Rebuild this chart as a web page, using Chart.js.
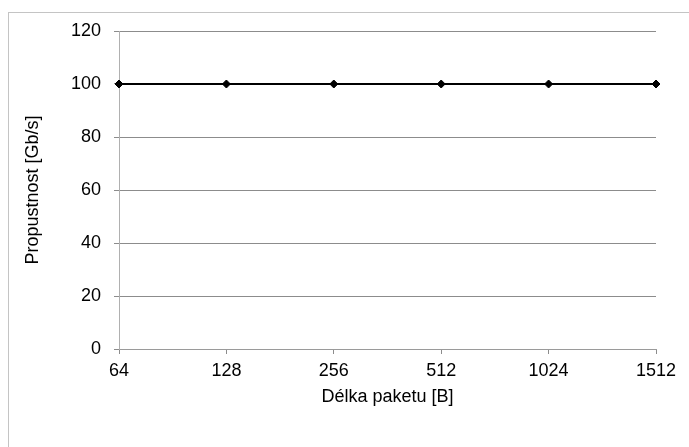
<!DOCTYPE html>
<html>
<head>
<meta charset="utf-8">
<script src="https://cdn.jsdelivr.net/npm/chart.js@4"></script>
<style>
html,body{margin:0;padding:0;background:#fff;}
canvas{display:block;}
</style>
</head>
<body>
<canvas id="c" width="689" height="447"></canvas>
<script>
const categories = ['64', '128', '256', '512', '1024', '1512'];
const throughput = [100, 100, 100, 100, 100, 100];
const yTitle = 'Propustnost [Gb/s]';
const xTitle = 'Délka paketu [B]';

const FONT = {family: '"Liberation Sans", Arial, sans-serif', size: 18};

const frame = {
  id: 'frame',
  beforeDraw(chart) {
    const ctx = chart.ctx;
    ctx.save();
    ctx.fillStyle = '#ffffff';
    ctx.fillRect(0, 0, chart.width, chart.height);
    ctx.strokeStyle = '#c4c4c4';
    ctx.lineWidth = 1;
    ctx.strokeRect(8.5, 12.5, 720, 480);
    ctx.restore();
  }
};

new Chart(document.getElementById('c'), {
  type: 'line',
  data: {
    labels: categories,
    datasets: [{
      data: throughput,
      borderColor: '#000000',
      backgroundColor: '#000000',
      borderWidth: 2,
      pointStyle: 'rectRot',
      pointRadius: 4,
      pointBorderWidth: 1,
      fill: false,
      tension: 0
    }]
  },
  options: {
    responsive: false,
    animation: false,
    layout: {autoPadding: false, padding: {left: 0, top: 31, right: 33, bottom: 0}},
    plugins: {legend: {display: false}, tooltip: {enabled: false}},
    scales: {
      x: {
        type: 'category',
        offset: false,
        afterFit(s) { s.height = 98; },
        grid: {drawOnChartArea: false, drawTicks: true, tickLength: 5, color: '#8c8c8c'},
        border: {display: true, color: '#9a9a9a'},
        ticks: {color: '#000', font: FONT, padding: 6, maxRotation: 0, autoSkip: false},
        title: {display: true, text: xTitle, color: '#000', font: FONT, padding: {top: 0, bottom: 39}}
      },
      y: {
        min: 0,
        max: 120,
        afterFit(s) { s.width = 119; },
        grid: {color: '#8c8c8c', drawTicks: true, tickLength: 5},
        border: {display: true, color: '#b0b0b0'},
        ticks: {stepSize: 20, color: '#000', font: FONT, padding: 13},
        title: {display: true, text: yTitle, color: '#000', font: FONT, padding: {top: 22, bottom: 0}}
      }
    }
  },
  plugins: [frame]
});
</script>
</body>
</html>
